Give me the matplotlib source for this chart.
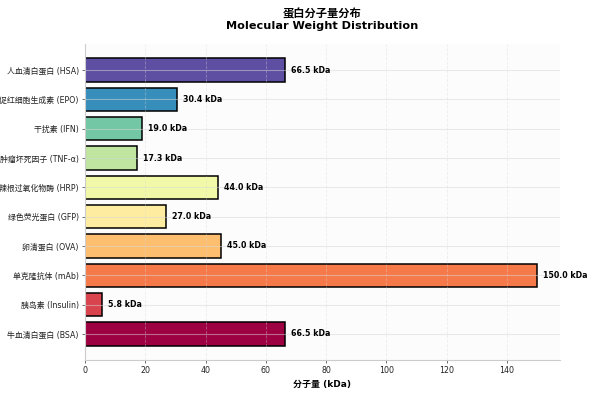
import numpy as np
import matplotlib
matplotlib.use('Agg')
import matplotlib.pyplot as plt

plt.rcParams['font.family'] = ['DejaVu Sans', 'Noto Sans CJK SC']
plt.rcParams['axes.unicode_minus'] = False

# protein names and molecular weights (kDa)
proteins = ['人血清白蛋白 (HSA)', '促红细胞生成素 (EPO)', '干扰素 (IFN)',
            '肿瘤坏死因子 (TNF-α)', '辣根过氧化物酶 (HRP)', '绿色荧光蛋白 (GFP)',
            '卵清蛋白 (OVA)', '单克隆抗体 (mAb)', '胰岛素 (Insulin)', '牛血清白蛋白 (BSA)']
weights = [66.5, 30.4, 19.0, 17.3, 44.0, 27.0, 45.0, 150.0, 5.8, 66.5]

colors = plt.cm.Spectral_r(np.linspace(0, 1, len(proteins)))

fig = plt.figure(figsize=(6, 3.99), dpi=100)
ax = fig.add_axes([0.1415, 0.0977, 0.7915, 0.792])
ax.set_facecolor('#fcfcfc')

y = np.arange(len(proteins))
bars = ax.barh(y, weights, height=0.8, color=colors, edgecolor='black', linewidth=1.1)
ax.invert_yaxis()
ax.set_xlim(0, max(weights) * 1.05)

for b, w in zip(bars, weights):
    ax.text(w + 2, b.get_y() + b.get_height() / 2, f'{w:.1f} kDa',
            va='center', ha='left', fontsize=5.7, fontweight='bold')

ax.set_yticks(y)
ax.set_yticklabels(proteins)
ax.tick_params(axis='both', labelsize=5.7, length=2.5, width=0.6, pad=2,
               colors='#555555', labelcolor='#222222')

ax.grid(axis='x', linestyle='--', color='#d8d8d8', alpha=0.4, linewidth=0.6)
ax.grid(axis='y', linestyle='-', color='#d8d8d8', alpha=0.5, linewidth=0.8)

for s in ['top', 'right']:
    ax.spines[s].set_visible(False)
for s in ['left', 'bottom']:
    ax.spines[s].set_color('#cccccc')
    ax.spines[s].set_linewidth(0.8)

ax.set_xlabel('分子量 (kDa)', fontsize=6.5, fontweight='bold', labelpad=3)
ax.set_title('蛋白分子量分布\nMolecular Weight Distribution',
             fontsize=8.1, fontweight='bold', pad=11)

fig.savefig('out.png', dpi=100)
